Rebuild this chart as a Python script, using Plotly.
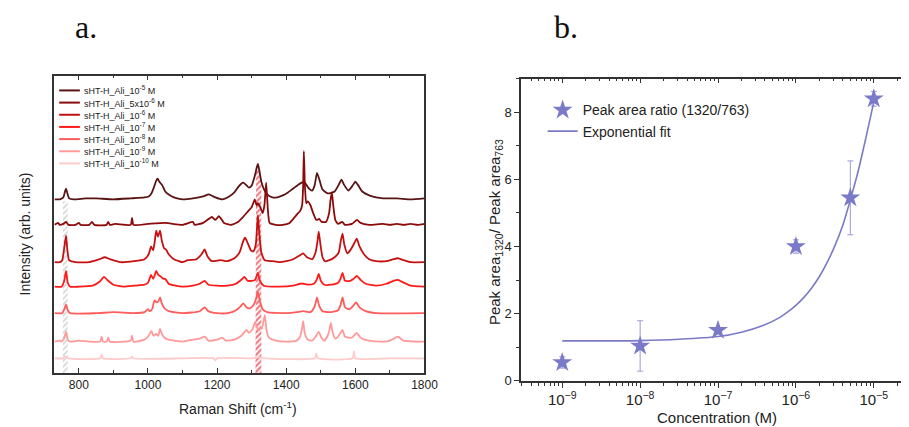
import numpy as np
import plotly.graph_objects as go

# ---------------- Panel a: Raman spectra (offset, arb. units) ----------------
labels = [
    "sHT-H_Ali_10<sup>-5</sup> M",
    "sHT-H_Ali_5x10<sup>-6</sup> M",
    "sHT-H_Ali_10<sup>-6</sup> M",
    "sHT-H_Ali_10<sup>-7</sup> M",
    "sHT-H_Ali_10<sup>-8</sup> M",
    "sHT-H_Ali_10<sup>-9</sup> M",
    "sHT-H_Ali_10<sup>-10</sup> M",
]
offsets = [177, 151, 113, 88, 61, 32, 15]

s1_x = [730, 745, 755, 760, 763, 767, 772, 785, 820, 850, 900, 950, 990, 1002, 1010, 1018, 1024, 1028, 1033, 1042,
        1050, 1060, 1075, 1100, 1130, 1160, 1176, 1195, 1215, 1235, 1250, 1262, 1270, 1276, 1283, 1292, 1300, 1310,
        1315, 1318, 1322, 1328, 1336, 1345, 1360, 1374, 1390, 1405, 1420, 1435, 1445, 1451, 1458, 1466, 1475, 1482,
        1489, 1496, 1505, 1520, 1540, 1552, 1560, 1567, 1580, 1592, 1600, 1607, 1620, 1640, 1660, 1680, 1720, 1760, 1800]
s1_y = [0, 0, 2, 8, 11, 6, 1, 0, 1, 1, 0, 1, 2, 3, 6, 13, 19, 21, 18, 14,
        8, 5, 2, 0, 1, 3, 5, 2, 0, 3, 7, 13, 16, 17, 15, 12, 14, 25,
        33, 36, 30, 18, 10, 5, 2, 2, 4, 7, 11, 15, 17, 18, 15, 11, 9, 14,
        27, 20, 10, 6, 8, 15, 20, 15, 9, 14, 18, 15, 8, 4, 2, 1, 1, 0, 1]

s2_x = [730, 740, 745, 755, 763, 770, 790, 800, 805, 830, 838, 845, 880, 885, 890, 905, 950, 954, 958, 1000,
        1050, 1100, 1130, 1135, 1160, 1185, 1195, 1205, 1212, 1220, 1240, 1260, 1275, 1290, 1300, 1309, 1314, 1318,
        1325, 1332, 1337, 1342, 1347, 1352, 1370, 1390, 1410, 1425, 1432, 1440, 1446, 1449, 1451, 1454, 1458, 1462,
        1470, 1478, 1487, 1495, 1503, 1515, 1524, 1528, 1532, 1536, 1542, 1550, 1562, 1570, 1590, 1605, 1615, 1640,
        1680, 1700, 1720, 1740, 1760, 1780, 1800]
s2_y = [0, 2, 0, 1, 3, 0, 0, 2, 0, 0, 3, 0, 0, 3, 0, 1, 0, 7, 0, 1,
        2, 0, 3, 0, 2, 8, 5, 9, 6, 2, 0, 3, 8, 14, 18, 26, 20, 22,
        18, 12, 20, 43, 15, 2, 0, 0, 2, 8, 11, 14, 20, 40, 75, 40, 22, 24,
        20, 12, 5, 6, 3, 3, 12, 25, 33, 20, 5, 1, 3, 0, 1, 5, 2, 0,
        1, 0, 1, 0, 1, 0, 1]

s3_x = [730, 745, 752, 758, 763, 767, 772, 790, 830, 860, 875, 890, 920, 960, 990, 1002, 1009, 1015, 1020, 1024,
        1029, 1035, 1040, 1047, 1052, 1060, 1075, 1090, 1100, 1115, 1140, 1155, 1164, 1172, 1185, 1210, 1230, 1250,
        1265, 1275, 1281, 1288, 1298, 1305, 1312, 1318, 1322, 1328, 1338, 1360, 1380, 1400, 1420, 1440, 1449, 1460,
        1475, 1485, 1490, 1494, 1499, 1505, 1512, 1525, 1540, 1552, 1558, 1563, 1568, 1577, 1585, 1595, 1604, 1612,
        1625, 1640, 1660, 1690, 1710, 1723, 1740, 1760, 1800]
s3_y = [0, 0, 2, 15, 27, 12, 2, 0, 0, 3, 5, 3, 0, 1, 3, 8, 16, 12, 22, 32,
        26, 32, 22, 14, 13, 8, 3, 1, 0, 2, 3, 8, 13, 6, 1, 2, 1, 4,
        10, 21, 25, 20, 12, 11, 18, 48, 30, 10, 2, 1, 0, 1, 3, 7, 9, 5,
        3, 10, 20, 31, 18, 5, 1, 2, 5, 10, 22, 29, 18, 9, 12, 18, 24, 16,
        8, 3, 1, 1, 3, 4, 2, 0, 0]

s4_x = [730, 750, 757, 763, 768, 775, 800, 840, 860, 873, 885, 900, 930, 960, 990, 1000, 1009, 1015, 1019, 1024,
        1030, 1038, 1045, 1050, 1060, 1080, 1100, 1130, 1150, 1164, 1175, 1200, 1230, 1255, 1270, 1279, 1288, 1300,
        1310, 1318, 1324, 1335, 1380, 1420, 1440, 1449, 1465, 1480, 1488, 1494, 1500, 1510, 1530, 1550, 1557, 1563,
        1570, 1585, 1595, 1604, 1615, 1630, 1660, 1690, 1710, 1723, 1740, 1760, 1800]
s4_y = [0, 0, 5, 16, 4, 0, 0, 1, 5, 10, 6, 2, 0, 1, 2, 4, 12, 8, 11, 16,
        12, 10, 8, 8, 3, 1, 0, 1, 3, 6, 2, 1, 1, 3, 7, 10, 6, 6,
        7, 14, 6, 1, 0, 1, 3, 3, 2, 3, 7, 13, 6, 2, 2, 4, 8, 14,
        6, 6, 8, 11, 7, 3, 1, 3, 6, 7, 4, 1, 0]

s5_x = [730, 752, 758, 763, 768, 775, 850, 900, 960, 990, 1000, 1005, 1012, 1019, 1025, 1030, 1035, 1040, 1048, 1060,
        1100, 1150, 1164, 1175, 1200, 1230, 1255, 1268, 1276, 1285, 1295, 1305, 1312, 1318, 1324, 1332, 1345, 1400,
        1430, 1449, 1470, 1480, 1485, 1489, 1495, 1505, 1530, 1550, 1557, 1563, 1570, 1583, 1595, 1602, 1612, 1630,
        1660, 1800]
s5_y = [0, 0, 4, 9, 3, 0, 0, 1, 0, 1, 4, 2, 4, 13, 11, 12, 16, 10, 5, 2,
        0, 2, 6, 2, 0, 0, 3, 7, 10, 6, 5, 8, 14, 22, 12, 4, 1, 0,
        1, 2, 1, 5, 10, 16, 8, 2, 1, 3, 8, 16, 6, 4, 8, 11, 6, 2,
        0, 0]

s6_x = [730, 745, 750, 757, 763, 768, 775, 800, 830, 862, 866, 870, 881, 885, 890, 950, 954, 958, 990, 1002,
        1010, 1016, 1024, 1030, 1035, 1040, 1048, 1060, 1100, 1130, 1150, 1164, 1175, 1200, 1215, 1225, 1250, 1270,
        1280, 1285, 1292, 1302, 1310, 1316, 1322, 1330, 1338, 1343, 1350, 1370, 1400, 1430, 1440, 1445, 1449, 1454,
        1462, 1475, 1485, 1494, 1502, 1510, 1520, 1525, 1529, 1534, 1542, 1550, 1563, 1570, 1590, 1604, 1615, 1640,
        1680, 1700, 1723, 1740, 1800]
s6_y = [0, 1, 0, 3, 10, 2, 0, 1, 0, 0, 5, 0, 0, 4, 0, 1, 6, 0, 2, 6,
        11, 6, 8, 6, 13, 8, 4, 2, 0, 2, 3, 5, 1, 2, 4, 1, 2, 6,
        10, 12, 9, 12, 20, 14, 12, 14, 27, 12, 4, 1, 0, 1, 5, 12, 21, 8,
        2, 1, 5, 10, 4, 1, 6, 12, 19, 10, 3, 5, 12, 5, 4, 9, 4, 1,
        0, 1, 5, 1, 0]

s7_x = [730, 755, 760, 770, 862, 866, 870, 950, 954, 958, 1100, 1190, 1195, 1200, 1300, 1320, 1340, 1483, 1487, 1491,
        1592, 1596, 1600, 1700, 1800]
s7_y = [0, 0, 2, 0, 0, 4, 0, 0, 2, 0, 0, 0, -2, 0, 0, 1, 0, 0, 5, 0,
        0, 7, 0, 0, 0]

spec_x = [s1_x, s2_x, s3_x, s4_x, s5_x, s6_x, s7_x]
spec_y = [s1_y, s2_y, s3_y, s4_y, s5_y, s6_y, s7_y]
spec_colors = ["#5a1414", "#8b0a0a", "#c41010", "#ff1a1a", "#ff5c5c", "#ff9a9a", "#ffcaca"]

band_763 = [754, 768]
band_763_top = 175
band_1320 = [1311, 1328]

# ---------------- Panel b: peak-area ratio vs concentration ----------------
conc = [1e-9, 1e-8, 1e-7, 1e-6, 5e-6, 1e-5]
ratio = [0.55, 1.04, 1.51, 4.0, 5.45, 8.4]
ratio_err = [0.17, 0.75, 0.05, 0.2, 1.1, 0.22]

fit_logc = [-9.0, -8.5, -8.0, -7.5, -7.0, -6.7, -6.4, -6.2, -6.1, -6.0, -5.9, -5.8, -5.7, -5.6, -5.5, -5.4,
            -5.3, -5.2, -5.1, -5.0]
fit_y = [1.19, 1.19, 1.20, 1.24, 1.32, 1.45, 1.67, 1.90, 2.06, 2.25, 2.48, 2.76, 3.10, 3.52, 4.02, 4.62,
         5.40, 6.25, 7.25, 8.3]

W, H = 909, 427
FONT = "Liberation Sans, Arial, sans-serif"
AXC = "#333333"
STAR = "#7a7ac8"


def px_x(p):
    return p / W


def px_y(p):
    return 1 - p / H


fig = go.Figure()

# hatched bands (drawn first, beneath spectra)
xb = np.array(band_763 + band_763[::-1] + [band_763[0]], dtype=float)
yb = np.array([0, 0, band_763_top, band_763_top, 0], dtype=float)
fig.add_trace(go.Scatter(x=xb, y=yb, fill="toself", mode="lines", line=dict(width=0),
                         fillcolor="rgba(0,0,0,0)",
                         fillpattern=dict(shape="/", fgcolor="#a8a8a8", bgcolor="rgba(255,255,255,0)",
                                          size=4, solidity=0.4),
                         showlegend=False, hoverinfo="skip", xaxis="x", yaxis="y"))

x_top = np.linspace(band_1320[0], band_1320[1], 18)
y_top = offsets[0] + np.interp(x_top, s1_x, s1_y)
xr = np.concatenate([[band_1320[0]], x_top, [band_1320[1], band_1320[0]]])
yr = np.concatenate([[0], y_top, [0, 0]])
fig.add_trace(go.Scatter(x=xr, y=yr, fill="toself", mode="lines", line=dict(width=0),
                         fillcolor="rgba(0,0,0,0)",
                         fillpattern=dict(shape="/", fgcolor="#e00010", bgcolor="rgba(255,255,255,0)",
                                          size=4, solidity=0.55),
                         showlegend=False, hoverinfo="skip", xaxis="x", yaxis="y"))

for i in range(len(labels)):
    xs = np.array(spec_x[i], dtype=float)
    ys = offsets[i] + np.array(spec_y[i], dtype=float)
    fig.add_trace(go.Scatter(x=xs, y=ys, mode="lines", name=labels[i], showlegend=False,
                             line=dict(color=spec_colors[i], width=1.8, shape="spline", smoothing=0.5),
                             xaxis="x", yaxis="y"))

# panel b
fig.add_trace(go.Scatter(x=conc, y=ratio, mode="markers", name="Peak area ratio (1320/763)",
                         marker=dict(symbol="star", size=15, color=STAR, line=dict(width=0)),
                         error_y=dict(type="data", array=ratio_err, color="#9a9ad8", thickness=1, width=3),
                         xaxis="x2", yaxis="y2", legend="legend2"))
fig.add_trace(go.Scatter(x=[10 ** v for v in fit_logc], y=fit_y, mode="lines", name="Exponential fit",
                         line=dict(color=STAR, width=1.6, shape="spline", smoothing=0.8),
                         xaxis="x2", yaxis="y2", legend="legend2"))
# invisible trace to activate the top overlay axis
fig.add_trace(go.Scatter(x=[1e-9], y=[0], mode="markers", marker=dict(opacity=0), showlegend=False,
                         hoverinfo="skip", xaxis="x3", yaxis="y2"))

tickfont = dict(family=FONT, size=12, color="#222222")

fig.update_layout(
    width=W, height=H,
    margin=dict(l=0, r=0, t=0, b=0),
    paper_bgcolor="white", plot_bgcolor="white",
    font=dict(family=FONT, color="#222222"),
    xaxis=dict(domain=[px_x(47), px_x(423)], range=[729, 1800], anchor="y",
               showline=True, linecolor=AXC, linewidth=1.5, mirror="ticks",
               ticks="inside", ticklen=5, tickcolor=AXC, tickwidth=1.2,
               tickvals=[800, 1000, 1200, 1400, 1600, 1800], tickfont=tickfont,
               minor=dict(tickvals=[900, 1100, 1300, 1500, 1700], ticks="inside", ticklen=3, tickcolor=AXC),
               showgrid=False, zeroline=False),
    yaxis=dict(domain=[px_y(372), px_y(69)], range=[0, 303], anchor="x",
               showline=True, linecolor=AXC, linewidth=1.5, mirror=True,
               showticklabels=False, ticks="", showgrid=False, zeroline=False),
    xaxis2=dict(domain=[px_x(521), px_x(907)], type="log", range=[-9.53, -4.65], anchor="y2",
                showline=True, linecolor=AXC, linewidth=1.5,
                ticks="outside", ticklen=5, tickcolor=AXC, tickwidth=1.2,
                dtick=1, exponentformat="power", showexponent="all", tickfont=tickfont,
                minor=dict(dtick="D1", ticks="outside", ticklen=3, tickcolor=AXC, showgrid=False),
                showgrid=False, zeroline=False),
    xaxis3=dict(type="log", range=[-9.53, -4.65], overlaying="x2", side="top", anchor="y2",
                showline=True, linecolor=AXC, linewidth=1.5,
                ticks="inside", ticklen=5, tickcolor=AXC, tickwidth=1.2, dtick=1,
                showticklabels=False,
                minor=dict(dtick="D1", ticks="inside", ticklen=3, tickcolor=AXC, showgrid=False),
                showgrid=False, zeroline=False),
    yaxis2=dict(domain=[px_y(380), px_y(72)], range=[0, 9.0], anchor="x2",
                showline=True, linecolor=AXC, linewidth=1.5, mirror=True,
                ticks="outside", ticklen=5, tickcolor=AXC, tickwidth=1.2,
                dtick=2, tickfont=dict(family=FONT, size=13, color="#222222"),
                minor=dict(dtick=1, ticks="outside", ticklen=3, tickcolor=AXC),
                showgrid=False, zeroline=False),
    legend2=dict(x=px_x(543), y=px_y(88), xanchor="left", yanchor="top",
                 bgcolor="rgba(0,0,0,0)", borderwidth=0,
                 font=dict(family=FONT, size=14, color="#222222"), itemwidth=30),
    showlegend=True,
)

# compact legend for panel a (entries 12.4 px apart, tighter than plotly's legend allows)
shapes = []
ann = []
for i, lab in enumerate(labels):
    yy = px_y(84 + 12.4 * i)
    shapes.append(dict(type="line", xref="paper", yref="paper", x0=px_x(52), x1=px_x(73), y0=yy, y1=yy,
                       line=dict(color=spec_colors[i], width=2)))
    ann.append(dict(text=lab, x=px_x(75), y=yy, xanchor="left", yanchor="middle",
                    font=dict(family=FONT, size=9, color="#222222")))

ann += [
    dict(text="a.", x=px_x(66), y=px_y(19), xanchor="left", yanchor="middle",
         font=dict(family="Liberation Serif, Times New Roman, serif", size=32, color="#111111")),
    dict(text="b.", x=px_x(553), y=px_y(19), xanchor="left", yanchor="middle",
         font=dict(family="Liberation Serif, Times New Roman, serif", size=32, color="#111111")),
    dict(text="Intensity (arb. units)", x=px_x(17), y=px_y(230), textangle=-90,
         xanchor="center", yanchor="middle", font=dict(family=FONT, size=14, color="#222222")),
    dict(text="Raman Shift (cm<sup>-1</sup>)", x=px_x(234), y=px_y(408),
         xanchor="center", yanchor="middle", font=dict(family=FONT, size=14, color="#222222")),
    dict(text="Concentration (M)", x=px_x(720), y=px_y(417),
         xanchor="center", yanchor="middle", font=dict(family=FONT, size=15, color="#222222")),
    dict(text="Peak area<sub>1320</sub>/ Peak area<sub>763</sub>", x=px_x(495), y=px_y(228), textangle=-90,
         xanchor="center", yanchor="middle", font=dict(family=FONT, size=15, color="#222222")),
]
for a in ann:
    a.update(xref="paper", yref="paper", showarrow=False)
fig.update_layout(annotations=ann, shapes=shapes)

fig.write_html("out.html")
